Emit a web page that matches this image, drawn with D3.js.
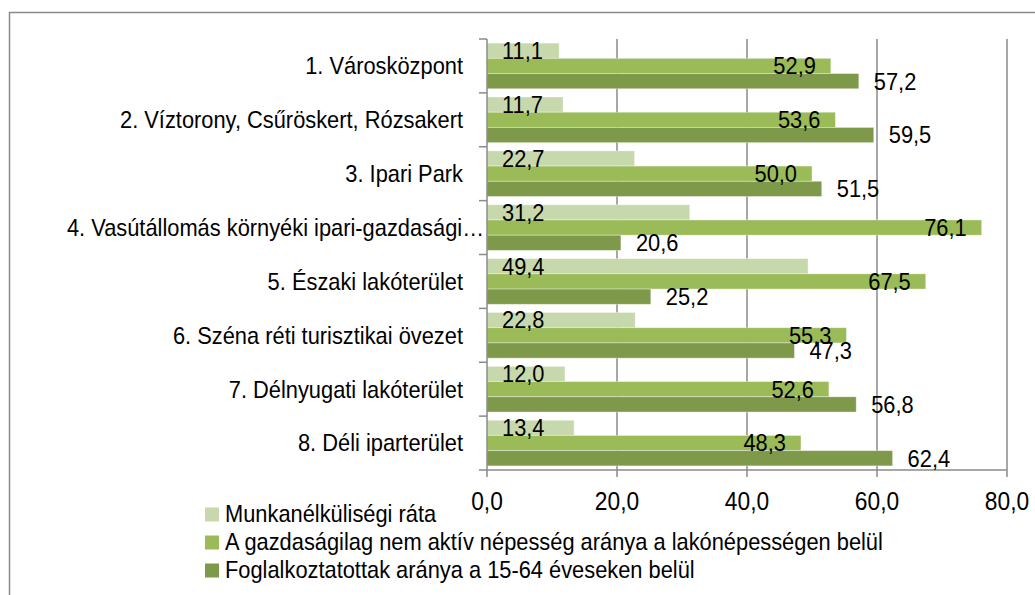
<!DOCTYPE html>
<html>
<head>
<meta charset="utf-8">
<script src="https://cdn.jsdelivr.net/npm/d3@7/dist/d3.min.js"></script>
<style>
  html, body { margin: 0; padding: 0; background: #ffffff; }
  svg { display: block; }
  text { font-family: "Liberation Sans", Arial, sans-serif; fill: #000; }
</style>
</head>
<body>
<svg id="chart" width="1035" height="595"></svg>
<script>
const categories = [
  "1. Városközpont",
  "2. Víztorony, Csűröskert, Rózsakert",
  "3. Ipari Park",
  "4. Vasútállomás környéki ipari-gazdasági…",
  "5. Északi lakóterület",
  "6. Széna réti turisztikai övezet",
  "7. Délnyugati lakóterület",
  "8. Déli iparterület"
];
const seriesNames = [
  "Munkanélküliségi ráta",
  "A gazdaságilag nem aktív népesség aránya a lakónépességen belül",
  "Foglalkoztatottak aránya a 15-64 éveseken belül"
];
const unemployment = [11.1, 11.7, 22.7, 31.2, 49.4, 22.8, 12.0, 13.4];
const inactive     = [52.9, 53.6, 50.0, 76.1, 67.5, 55.3, 52.6, 48.3];
const employed     = [57.2, 59.5, 51.5, 20.6, 25.2, 47.3, 56.8, 62.4];
const xTicks = [0, 20, 40, 60, 80];
const colors = ["#c8d8ad", "#9bbb59", "#7e994a"];

(function () {
const seriesValues = [unemployment, inactive, employed];
const svg = d3.select("#chart");
const SX = 0.91; // condensed look of the original font
const place = (fx, fy) => (d, i) => `translate(${fx(d, i)},${fy(d, i)}) scale(${SX},1)`;

// outer chart border
svg.append("rect")
  .attr("x", 9.5).attr("y", 12.5)
  .attr("width", 1100).attr("height", 700)
  .attr("fill", "none").attr("stroke", "#8a8a8a").attr("stroke-width", 1.5);

const pLeft = 487, pRight = 1007, pTop = 39, pBottom = 470;
const x = d3.scaleLinear().domain([0, 80]).range([pLeft, pRight]);
const y = d3.scaleBand().domain(categories).range([pTop, pBottom]).padding(0);
const inner = d3.scaleBand().domain([0, 1, 2]).range([0, y.bandwidth()])
  .paddingInner(0).paddingOuter(0.27);

const gridColor = "#8a8a8a";

// vertical gridlines
svg.append("g").selectAll("line").data(xTicks.slice(1)).join("line")
  .attr("x1", d => x(d)).attr("x2", d => x(d))
  .attr("y1", pTop).attr("y2", pBottom)
  .attr("stroke", gridColor).attr("stroke-width", 1.5);

// bars
const fmt = v => d3.format(".1f")(v).replace(".", ",");
seriesValues.forEach((vals, si) => {
  svg.append("g").selectAll("rect").data(vals).join("rect")
    .attr("x", x(0))
    .attr("y", (d, i) => y(categories[i]) + inner(si))
    .attr("width", d => x(d) - x(0))
    .attr("height", inner.bandwidth())
    .attr("fill", colors[si])
    .attr("stroke", "#ffffff").attr("stroke-opacity", 0.45).attr("stroke-width", 0.8);
});

// y axis (category)
const yAxisG = svg.append("g");
yAxisG.append("line")
  .attr("x1", pLeft).attr("x2", pLeft).attr("y1", pTop).attr("y2", pBottom + 0.75)
  .attr("stroke", gridColor).attr("stroke-width", 1.5);
const bounds = categories.map(c => y(c)).concat([pBottom]);
yAxisG.selectAll("line.tick").data(bounds).join("line").attr("class", "tick")
  .attr("x1", pLeft - 8).attr("x2", pLeft)
  .attr("y1", d => d).attr("y2", d => d)
  .attr("stroke", gridColor).attr("stroke-width", 1.5);
yAxisG.selectAll("text").data(categories).join("text")
  .attr("transform", place(d => d.endsWith("…") ? pLeft - 3 : pLeft - 24,
                           d => y(d) + y.bandwidth() / 2))
  .attr("dy", "0.35em")
  .attr("text-anchor", "end")
  .attr("font-size", 24)
  .text(d => d);

// x axis
const xAxisG = svg.append("g");
xAxisG.append("line")
  .attr("x1", pLeft).attr("x2", pRight).attr("y1", pBottom).attr("y2", pBottom)
  .attr("stroke", gridColor).attr("stroke-width", 1.5);
xAxisG.selectAll("line.tick").data(xTicks).join("line").attr("class", "tick")
  .attr("x1", d => x(d)).attr("x2", d => x(d))
  .attr("y1", pBottom).attr("y2", pBottom + 7)
  .attr("stroke", gridColor).attr("stroke-width", 1.5);
xAxisG.selectAll("text").data(xTicks).join("text")
  .attr("transform", place(d => x(d), () => 510))
  .attr("text-anchor", "middle")
  .attr("font-size", 25)
  .text(d => fmt(d));

// data labels
seriesValues.forEach((vals, si) => {
  svg.append("g").selectAll("text").data(vals).join("text")
    .attr("transform", place(
      d => si === 0 ? x(0) + 15 : (si === 1 ? x(d) - 15 : x(d) + 15),
      (d, i) => y(categories[i]) + inner(si) + inner.bandwidth() / 2))
    .attr("dy", "0.35em")
    .attr("text-anchor", si === 1 ? "end" : "start")
    .attr("font-size", 24)
    .text(d => fmt(d));
});

// legend
const legend = svg.append("g");
seriesNames.forEach((name, si) => {
  const base = 521.5 + si * 28;
  legend.append("rect")
    .attr("x", 205).attr("y", base - 14)
    .attr("width", 14).attr("height", 14)
    .attr("fill", colors[si]);
  legend.append("text")
    .attr("transform", `translate(225,${base}) scale(${SX},1)`)
    .attr("font-size", 24)
    .text(name);
});
})();
</script>
</body>
</html>
